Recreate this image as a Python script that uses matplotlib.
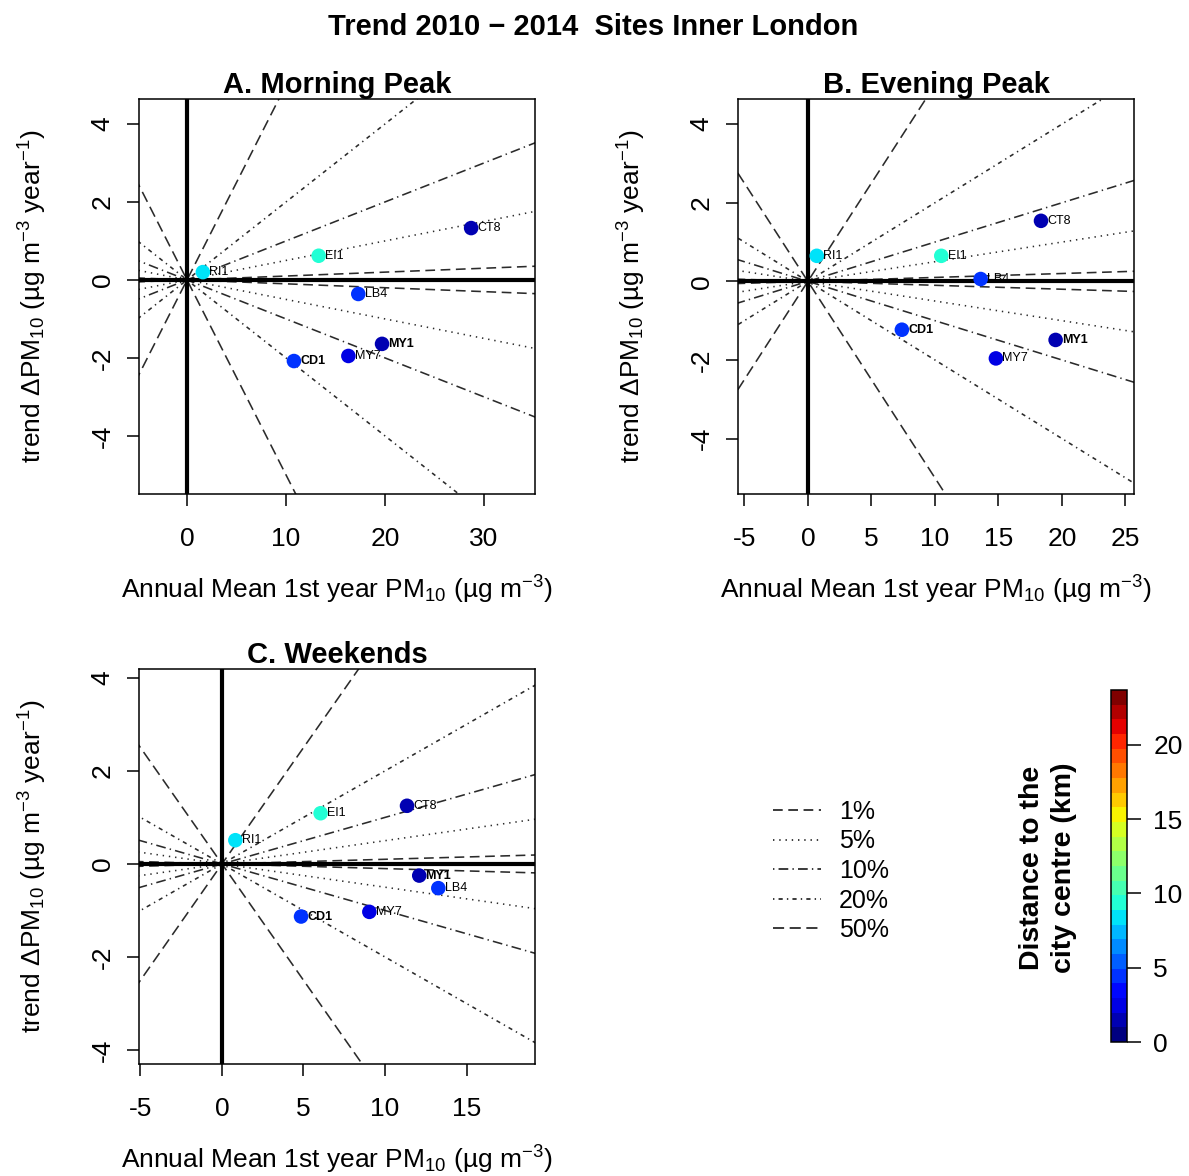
import matplotlib
matplotlib.use("Agg")
import matplotlib.pyplot as plt
import numpy as np
from matplotlib.colors import Normalize
from matplotlib.lines import Line2D
from matplotlib.cm import ScalarMappable

plt.rcParams['font.family'] = ['Liberation Sans', 'DejaVu Sans']
plt.rcParams['mathtext.fontset'] = 'custom'
plt.rcParams['mathtext.rm'] = 'Liberation Sans'
plt.rcParams['mathtext.it'] = 'Liberation Sans:italic'
plt.rcParams['mathtext.bf'] = 'Liberation Sans:bold'
plt.rcParams['axes.unicode_minus'] = False
plt.rcParams['lines.scale_dashes'] = False

# sites and distance to the city centre (km)
sites = ["RI1", "EI1", "CT8", "LB4", "MY1", "MY7", "CD1"]
distance = [8.5, 9.3, 1.5, 4.2, 1.5, 2.0, 4.0]
bold_sites = ["MY1", "CD1"]

# annual mean of first year vs trend, per period
morning_mean = [1.6, 13.3, 28.7, 17.3, 19.7, 16.3, 10.8]
morning_trend = [0.20, 0.62, 1.33, -0.36, -1.64, -1.95, -2.08]
evening_mean = [0.7, 10.5, 18.35, 13.6, 19.5, 14.8, 7.4]
evening_trend = [0.65, 0.65, 1.54, 0.06, -1.49, -1.96, -1.23]
weekend_mean = [0.82, 6.05, 11.35, 13.27, 12.1, 9.04, 4.85]
weekend_trend = [0.51, 1.09, 1.25, -0.52, -0.25, -1.03, -1.13]

# percentage-change reference lines
pct = [0.01, 0.05, 0.10, 0.20, 0.50]
pct_labels = ["1%", "5%", "10%", "20%", "50%"]
pct_styles = [(0, (7, 4)), (0, (1, 3.5)), (0, (1, 3, 7, 3)),
              (0, (1, 3, 3, 3)), (0, (8, 4))]

dist_max = 23.7
cmap = plt.get_cmap('jet', 24)
norm = Normalize(0, dist_max)

W, H = 1189, 1176
fig = plt.figure(figsize=(W / 100, H / 100), dpi=100)

line_col = '#2b2b2b'
fs = 19


def px_axes(left, top, right, bottom):
    return fig.add_axes([left / W, 1 - bottom / H, (right - left) / W, (bottom - top) / H])


def panel(ax, xm, yt, title, xlim, ylim, xticks, yticks):
    ax.set_xlim(*xlim)
    ax.set_ylim(*ylim)
    xs = np.array([xlim[0] - 5, xlim[1] + 5])
    for p, ls in zip(pct, pct_styles):
        for s in (1, -1):
            ax.plot(xs, s * p * xs, color=line_col, lw=1.15, linestyle=ls, zorder=1)
    for name, x, y in zip(sites, xm, yt):
        ax.annotate(name, (x, y), xytext=(4.5, 0), textcoords='offset points',
                    fontsize=9, va='center', ha='left', color='black',
                    fontweight='bold' if name in bold_sites else 'normal', zorder=2)
    ax.axhline(0, color='black', lw=3, zorder=3)
    ax.axvline(0, color='black', lw=3, zorder=3)
    ax.scatter(xm, yt, c=distance, cmap=cmap, norm=norm, s=110, zorder=4,
               edgecolors='none')
    ax.set_xticks(xticks)
    ax.set_yticks(yticks)
    ax.set_yticklabels([str(v) for v in yticks], rotation=90, va='center')
    ax.tick_params(axis='both', length=8.5, width=1.1, labelsize=fs)
    ax.tick_params(axis='x', pad=15)
    ax.tick_params(axis='y', pad=9)
    for sp in ax.spines.values():
        sp.set_linewidth(1.1)
    ax.set_title(title, fontsize=21, fontweight='bold', pad=2)
    ax.set_xlabel("Annual Mean 1st year PM$_{10}$ (µg m$^{-3}$)", fontsize=fs)
    ax.set_ylabel("trend \u0394PM$_{10}$ (µg m$^{-3}$ year$^{-1}$)", fontsize=fs)
    ax.xaxis.set_label_coords(0.5, -0.243)
    ax.yaxis.set_label_coords(-0.268, 0.5)
    ax.xaxis.label.set_va('center')
    ax.yaxis.label.set_va('center')


ax_a = px_axes(139, 99, 535, 494)
panel(ax_a, morning_mean, morning_trend, "A. Morning Peak",
      (-4.85, 35.15), (-5.49, 4.64), [0, 10, 20, 30], [-4, -2, 0, 2, 4])

ax_b = px_axes(738, 99, 1134, 494)
panel(ax_b, evening_mean, evening_trend, "B. Evening Peak",
      (-5.5, 25.67), (-5.41, 4.64), [-5, 0, 5, 10, 15, 20, 25], [-4, -2, 0, 2, 4])

ax_c = px_axes(139, 669, 535, 1064)
panel(ax_c, weekend_mean, weekend_trend, "C. Weekends",
      (-5.09, 19.2), (-4.3, 4.19), [-5, 0, 5, 10, 15], [-4, -2, 0, 2, 4])

fig.text(593 / W, 1 - 27 / H, "Trend 2010 \u2212 2014  Sites Inner London",
         fontsize=21, fontweight='bold', ha='center', va='center')

# line-type key
handles = [Line2D([0], [0], color=line_col, lw=1.3, linestyle=ls) for ls in pct_styles]
fig.legend(handles, pct_labels, loc='upper left', frameon=False, fontsize=18,
           bbox_to_anchor=(773 / W, 1 - 800 / H), borderpad=0, borderaxespad=0,
           handlelength=1.9, handletextpad=0.75, labelspacing=0.22)

# distance colour bar
cax = px_axes(1111, 690, 1127, 1042)
sm = ScalarMappable(norm=norm, cmap=cmap)
cb = fig.colorbar(sm, cax=cax, ticks=[0, 5, 10, 15, 20])
cb.outline.set_linewidth(1.1)
cax.tick_params(length=10, width=1.1, labelsize=fs, pad=9)
fig.text(1048 / W, 1 - 868 / H, "Distance to the\ncity centre (km)", rotation=90,
         fontsize=20.5, fontweight='bold', ha='center', va='center',
         multialignment='center', linespacing=1.3)

fig.savefig("out.png", dpi=100)
